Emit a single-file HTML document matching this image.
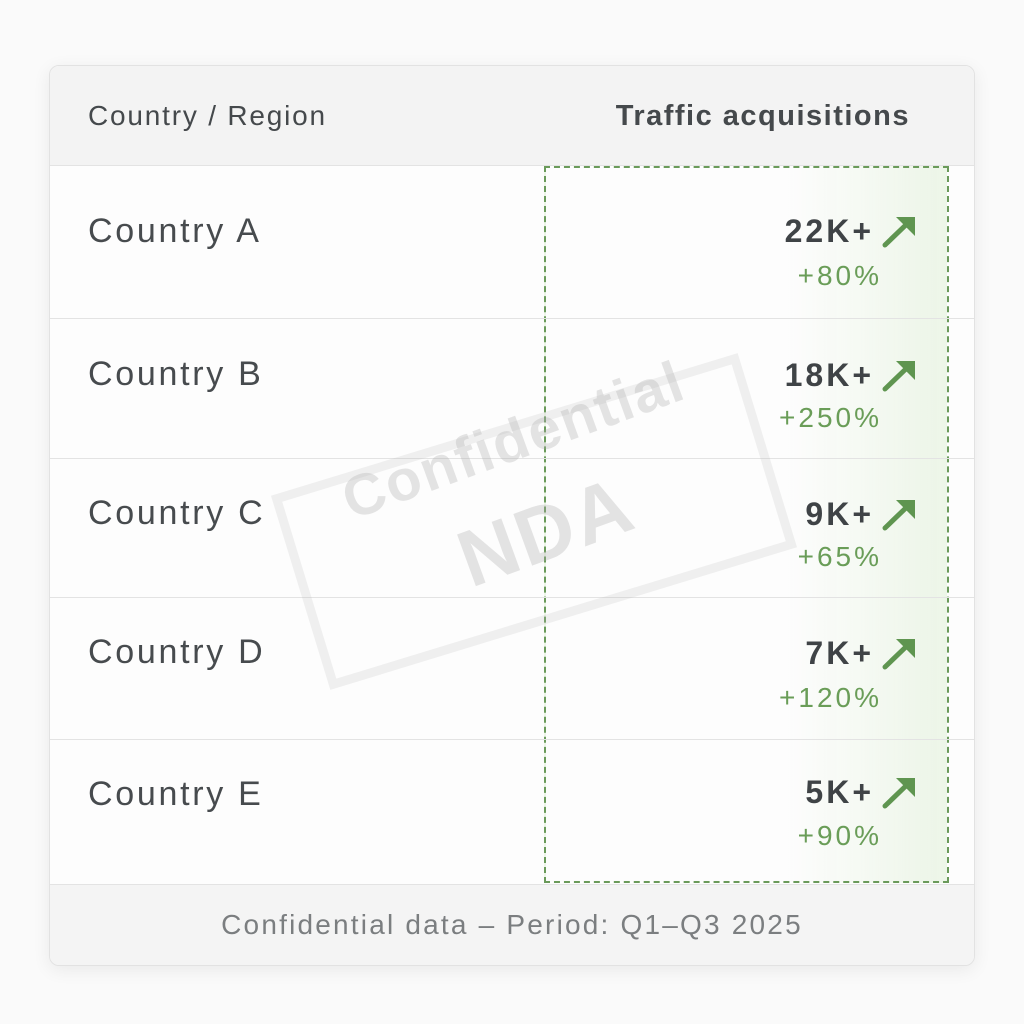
<!DOCTYPE html>
<html><head><style>
body{margin:0;width:1024px;height:1024px;background:#fafafa;font-family:"Liberation Sans","DejaVu Sans",sans-serif;position:relative;overflow:hidden}
.card{position:absolute;left:49px;top:65px;width:924px;height:899px;background:#fdfdfd;border:1px solid #e2e2e2;border-radius:10px;box-shadow:0 4px 18px rgba(0,0,0,0.07);overflow:hidden}
.hdr{position:absolute;left:0;top:0;width:100%;height:99px;background:#f3f3f3;border-bottom:1px solid #e3e3e3}
.foot{position:absolute;left:0;top:818px;width:100%;height:81px;background:#f4f4f4;border-top:1px solid #e3e3e3}
.line{position:absolute;left:0;width:100%;height:1px;background:#e3e3e3}
.t{position:absolute;white-space:nowrap;line-height:1}
.c{left:38px;font-size:34px;color:#474b4e;letter-spacing:2.7px}
.v{font-size:32px;font-weight:bold;color:#3f4346;right:100px;letter-spacing:3px}
.p{font-size:28px;color:#6a9d58;right:92px;letter-spacing:3px}
.ar{position:absolute;right:56px;width:36px;height:36px}
.box{position:absolute;left:494px;top:100px;width:401px;height:713px;border:2px dashed #6a9a5a;background:linear-gradient(90deg,rgba(240,247,236,0) 60%,rgba(232,243,226,0.8))}
.wm{position:absolute;left:290px;top:420px;width:470px;height:185px;border:9px solid rgba(185,185,185,0.2);transform:rotate(-17deg);transform-origin:center}
</style></head><body>
<div class="card">
<div class="hdr"></div>
<div class="box"></div>
<div class="line" style="top:252px"></div>
<div class="line" style="top:392px"></div>
<div class="line" style="top:531px"></div>
<div class="line" style="top:673px"></div>
<div class="foot"></div>
<div class="t" style="left:38px;top:36px;font-size:28px;color:#45494c;letter-spacing:1.8px">Country / Region</div>
<div class="t" style="right:64px;top:36px;font-size:29px;color:#45494c;font-weight:bold;letter-spacing:1.5px">Traffic acquisitions</div>

<div class="t c" style="top:148px">Country A</div>
<div class="t c" style="top:291px">Country B</div>
<div class="t c" style="top:430px">Country C</div>
<div class="t c" style="top:569px">Country D</div>
<div class="t c" style="top:711px">Country E</div>

<div class="t v" style="top:149px">22K+</div>
<div class="t p" style="top:196px">+80%</div>
<div class="t v" style="top:293px">18K+</div>
<div class="t p" style="top:338px">+250%</div>
<div class="t v" style="top:432px">9K+</div>
<div class="t p" style="top:477px">+65%</div>
<div class="t v" style="top:571px">7K+</div>
<div class="t p" style="top:618px">+120%</div>
<div class="t v" style="top:710px">5K+</div>
<div class="t p" style="top:756px">+90%</div>

<svg class="ar" style="top:147px" viewBox="0 0 36 36"><path d="M3 32 L29 7" stroke="#5f9550" stroke-width="5" stroke-linecap="round"/><path d="M14 4 H33 V23 Z" fill="#5f9550"/></svg>
<svg class="ar" style="top:291px" viewBox="0 0 36 36"><path d="M3 32 L29 7" stroke="#5f9550" stroke-width="5" stroke-linecap="round"/><path d="M14 4 H33 V23 Z" fill="#5f9550"/></svg>
<svg class="ar" style="top:430px" viewBox="0 0 36 36"><path d="M3 32 L29 7" stroke="#5f9550" stroke-width="5" stroke-linecap="round"/><path d="M14 4 H33 V23 Z" fill="#5f9550"/></svg>
<svg class="ar" style="top:569px" viewBox="0 0 36 36"><path d="M3 32 L29 7" stroke="#5f9550" stroke-width="5" stroke-linecap="round"/><path d="M14 4 H33 V23 Z" fill="#5f9550"/></svg>
<svg class="ar" style="top:708px" viewBox="0 0 36 36"><path d="M3 32 L29 7" stroke="#5f9550" stroke-width="5" stroke-linecap="round"/><path d="M14 4 H33 V23 Z" fill="#5f9550"/></svg>

<div class="t" style="left:0;width:100%;text-align:center;top:845px;font-size:28px;color:#7b7e80;letter-spacing:2.2px">Confidential data – Period: Q1–Q3 2025</div>
</div>
<div class="wm"></div>
<div class="t" style="left:335px;top:475px;font-size:58px;color:rgba(170,170,170,0.3);font-weight:bold;letter-spacing:2px;transform:rotate(-20deg);transform-origin:left top">Confidential</div>
<div class="t" style="left:448px;top:525px;font-size:80px;color:rgba(170,170,170,0.3);font-weight:bold;letter-spacing:2px;transform:rotate(-20deg);transform-origin:left top">NDA</div>
</body></html>
